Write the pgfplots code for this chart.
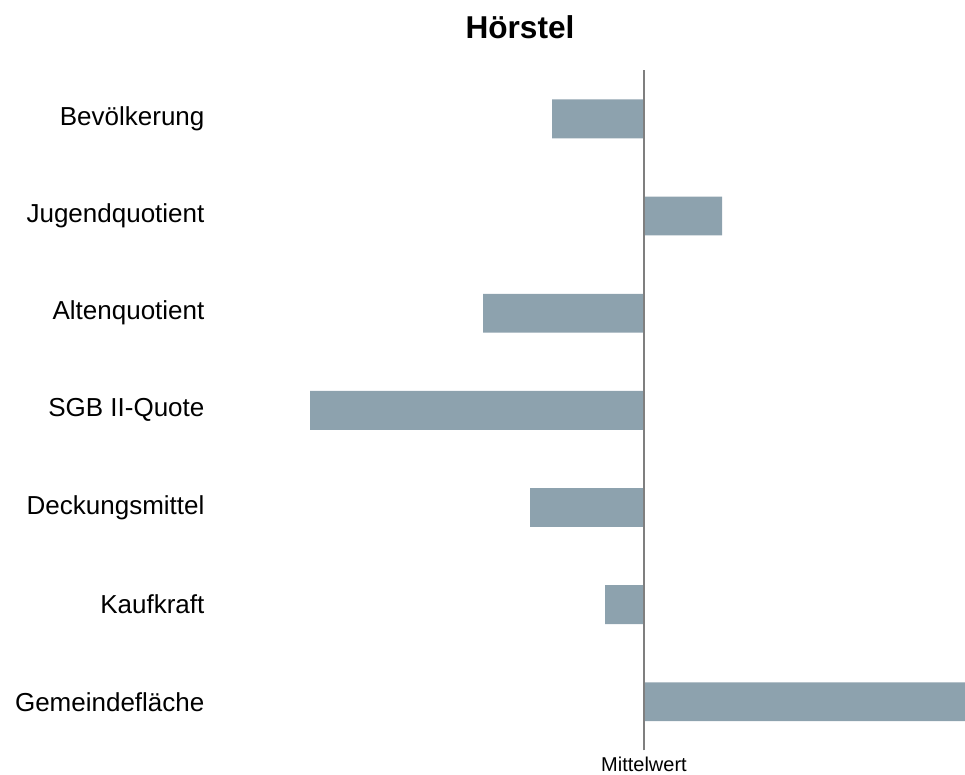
\documentclass[border=0pt]{standalone}
\usepackage{pgfplots}
\pgfplotsset{compat=1.18}
\usepackage{fontspec}
\setmainfont{Liberation Sans}
\definecolor{barc}{HTML}{8DA2AE}
\definecolor{linec}{HTML}{7F7F7F}
\begin{document}
\begin{tikzpicture}[x=0.75pt,y=0.75pt]
\useasboundingbox (0,0) rectangle (965,775);
\begin{axis}[
  at={(214,25.4)}, anchor=south west,
  scale only axis, width=563.25pt, height=510pt,
  xmin=-430, xmax=321,
  ymin=-0.5, ymax=6.5,
  axis line style={draw=none},
  ytick={0,1,2,3,4,5,6},
  yticklabels={Gemeindefläche,Kaufkraft,Deckungsmittel,SGB II-Quote,Altenquotient,Jugendquotient,Bevölkerung},
  xtick={0}, xticklabels={Mittelwert},
  tick style={draw=none},
  yticklabel style={font=\fontsize{19.5pt}{22pt}\selectfont, anchor=east, inner sep=0pt, xshift=-7pt},
  xticklabel style={font=\fontsize{15pt}{17pt}\selectfont, anchor=north, inner sep=0pt, yshift=-4.5pt},
  clip=false,
]
\addplot[xbar, bar width=0.4, draw=none, fill=barc] coordinates {
  (-92,6) (78,5) (-161,4) (-334,3) (-114,2) (-39,1) (321,0)
};
\addplot[draw=linec, line width=0.8pt, mark=none] coordinates {(0,-0.5) (0,6.5)};
\end{axis}
\node[font=\bfseries\fontsize{23.7pt}{26pt}\selectfont] at (520,748) {Hörstel};
\end{tikzpicture}
\end{document}
